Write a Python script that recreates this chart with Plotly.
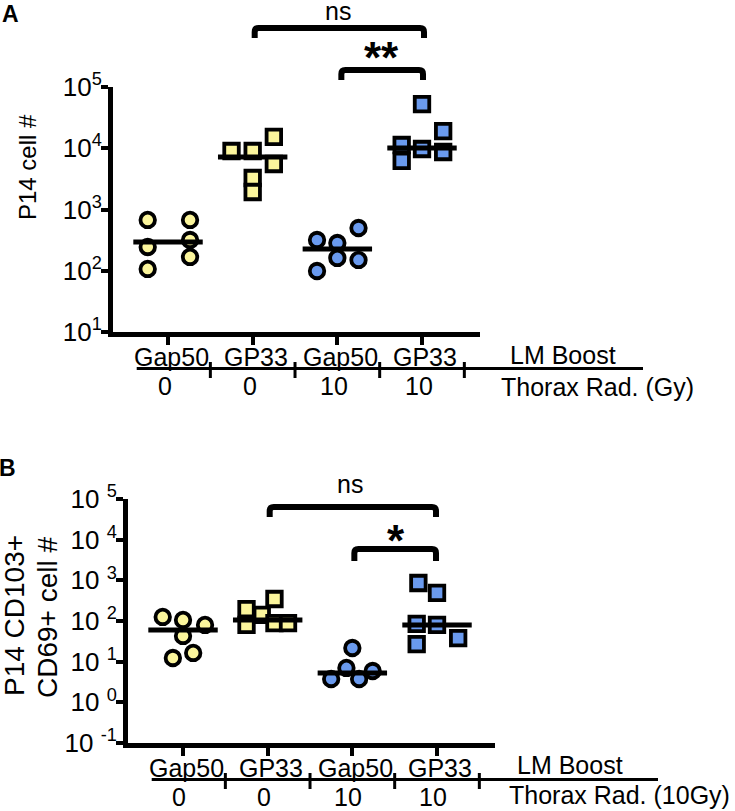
import plotly.graph_objects as go

W, H = 735, 811
FONT = "Liberation Sans, Arial, sans-serif"

# ---------------- data ----------------
categories = ["Gap50", "GP33", "Gap50", "GP33"]
thorax_labels = ["0", "0", "10", "10"]
group_colors = ["yellow", "yellow", "blue", "blue"]
group_symbols = ["circle", "square", "circle", "square"]

# Panel A: P14 cell #
a_gap50_0 = [675, 244, 107, 675, 318, 168]
a_gp33_0 = [9020, 9020, 15300, 5530, 3270, 1930]
a_gap50_10 = [318, 99, 284, 162, 499, 150]
a_gp33_10 = [52700, 19100, 11300, 6200, 9720, 8690]
a_medians = [295, 7200, 226, 10100]

# Panel B: P14 CD103+ CD69+ cell #
b_gap50_0 = [126, 106, 80, 43, 12.3, 16.4]
b_gp33_0 = [197, 80, 141, 348, 89, 89]
b_gap50_10 = [21.7, 7.0, 3.75, 3.75, 5.9]
b_gp33_10 = [861, 489, 85, 27, 80, 38]
b_medians = [60, 106, 5.3, 80]

a_ticks = [1e1, 1e2, 1e3, 1e4, 1e5]
a_ticktext = ["10<sup>1</sup>", "10<sup>2</sup>", "10<sup>3</sup>", "10<sup>4</sup>", "10<sup>5</sup>"]
b_ticks = [1e-1, 1e0, 1e1, 1e2, 1e3, 1e4, 1e5]
b_ticktext = ["10 <sup>-1</sup>", "10 <sup>0</sup>", "10 <sup>1</sup>", "10 <sup>2</sup>",
              "10 <sup>3</sup>", "10 <sup>4</sup>", "10 <sup>5</sup>"]

# ---------------- layout helpers (positions / styles) ----------------
a_jitter = [[-0.24, -0.24, -0.24, 0.26, 0.26, 0.26],
            [-0.25, 0, 0.25, 0.25, 0, 0],
            [-0.24, -0.24, 0, 0, 0.25, 0.25],
            [0, 0.25, -0.24, -0.24, 0, 0.25]]
b_jitter = [[-0.24, 0, 0.26, 0, -0.12, 0.12],
            [-0.25, -0.25, -0.07, 0.08, 0.08, 0.24],
            [0, -0.07, -0.25, 0.08, 0.24],
            [-0.22, 0, -0.24, -0.24, 0, 0.25]]

COLORS = {"yellow": "#FBF59C", "blue": "#6A9AEE"}

XR = [0.35, 4.685]
geom = {
    "A": dict(x0=113, x1=480, y0=87, y1=332, yr=[1, 5]),
    "B": dict(x0=128, x1=495, y0=499, y1=743, yr=[-1, 5]),
}


def px(x):
    return x / W


def py(y):
    return 1 - y / H


def cat_px(panel, c):
    g = geom[panel]
    return g["x0"] + (c - XR[0]) / (XR[1] - XR[0]) * (g["x1"] - g["x0"])


fig = go.Figure()

panels = [
    ("A", [a_gap50_0, a_gp33_0, a_gap50_10, a_gp33_10], a_medians, a_jitter, "x", "y"),
    ("B", [b_gap50_0, b_gp33_0, b_gap50_10, b_gp33_10], b_medians, b_jitter, "x2", "y2"),
]

for panel, groups, meds, jit, xa, ya in panels:
    for i, vals in enumerate(groups):
        c = i + 1
        fig.add_trace(go.Scatter(
            x=[c + j for j in jit[i]], y=vals, mode="markers", xaxis=xa, yaxis=ya,
            marker=dict(symbol=group_symbols[i], size=14.5,
                        color=COLORS[group_colors[i]],
                        line=dict(color="black", width=3.8)),
            hoverinfo="y", showlegend=False))
    for i, m in enumerate(meds):
        c = i + 1
        fig.add_trace(go.Scatter(
            x=[c - 0.41, c + 0.41], y=[m, m], mode="lines", xaxis=xa, yaxis=ya,
            line=dict(color="black", width=5), hoverinfo="skip", showlegend=False))

axis_common = dict(showgrid=False, zeroline=False, showline=True, linecolor="black",
                   linewidth=5, ticks="outside", tickcolor="black", automargin=False)

for panel, xa, ya, ticks, ticktext in [("A", "xaxis", "yaxis", a_ticks, a_ticktext),
                                       ("B", "xaxis2", "yaxis2", b_ticks, b_ticktext)]:
    g = geom[panel]
    anchor_x = "y" if panel == "A" else "y2"
    anchor_y = "x" if panel == "A" else "x2"
    fig.update_layout(**{
        xa: dict(axis_common, domain=[px(g["x0"]), px(g["x1"])], range=XR,
                 tickvals=[1, 2, 3, 4], showticklabels=False, ticklen=8, tickwidth=4,
                 anchor=anchor_x, fixedrange=True),
        ya: dict(axis_common, domain=[py(g["y1"]), py(g["y0"])], type="log", range=g["yr"],
                 tickvals=ticks, ticktext=ticktext, ticklen=7, tickwidth=4,
                 ticklabelstandoff=-6,
                 tickfont=dict(family=FONT, size=26, color="black"),
                 anchor=anchor_y, fixedrange=True),
    })

shapes = []
annotations = []


def text(t, x, y, size, bold=False, angle=0, family=FONT):
    annotations.append(dict(text=("<b>%s</b>" % t) if bold else t, x=px(x), y=py(y),
                            xref="paper", yref="paper", showarrow=False,
                            xanchor="center", yanchor="middle", textangle=angle,
                            font=dict(family=family, size=size, color="black")))


def bracket(xl, xr, ytop, ybot, w=6, r=4):
    path = ("M {a},{b} L {a},{c} Q {a},{d} {e},{d} L {f},{d} Q {g},{d} {g},{c} L {g},{b}"
            .format(a=px(xl), b=py(ybot), c=py(ytop + r), d=py(ytop), e=px(xl + r),
                    f=px(xr - r), g=px(xr)))
    shapes.append(dict(type="path", path=path, xref="paper", yref="paper",
                       line=dict(color="black", width=w)))


def hline(x0, x1, y, w):
    shapes.append(dict(type="line", x0=px(x0), x1=px(x1), y0=py(y), y1=py(y),
                       xref="paper", yref="paper", line=dict(color="black", width=w)))


def vline(x, y0, y1, w):
    shapes.append(dict(type="line", x0=px(x), x1=px(x), y0=py(y0), y1=py(y1),
                       xref="paper", yref="paper", line=dict(color="black", width=w)))


# ---- Panel A decorations ----
text("A", 10, 14, 23, bold=True, family="Liberation Sans Narrow, " + FONT)
text("P14 cell #", 27, 167, 24, angle=-90)
text("ns", 338, 11, 25)
bracket(cat_px("A", 2) + 2, cat_px("A", 4) + 2, 28, 38)
text("**", 381, 58, 44, bold=True)
bracket(cat_px("A", 3) + 4, cat_px("A", 4) + 1, 70, 80)
for i, lab in enumerate(categories):
    c = i + 1
    text(lab, cat_px("A", c) + 3, 357, 25)
    text(thorax_labels[i], cat_px("A", c) - 3, 386, 25)
    vline(cat_px("A", c + 0.5), 362, 378, 3)
hline(cat_px("A", 0.63), 643, 368.5, 3)
text("LM Boost", 563, 355, 25)
text("Thorax Rad. (Gy)", 597, 387, 25)

# ---- Panel B decorations ----
text("B", 8, 468, 23, bold=True, family="Liberation Sans Narrow, " + FONT)
text("P14 CD103+", 14, 616, 28, angle=-90)
text("CD69+ cell #", 47, 617, 28, angle=-90)
text("ns", 350, 484, 25)
bracket(cat_px("B", 2) + 2, cat_px("B", 4) - 1, 507, 517)
text("*", 396, 540, 44, bold=True)
bracket(cat_px("B", 3) + 2, cat_px("B", 4) - 1, 549, 561)
for i, lab in enumerate(categories):
    c = i + 1
    text(lab, cat_px("B", c) + 3, 768, 25)
    text(thorax_labels[i], cat_px("B", c) - 4, 797, 25)
    vline(cat_px("B", c + 0.5), 773, 789, 3)
hline(cat_px("B", 0.63), 658, 779.5, 3)
text("LM Boost", 570, 765, 25)
text("Thorax Rad. (10Gy)", 619, 795, 25)

fig.update_layout(width=W, height=H,
                  margin=dict(l=0, r=0, t=0, b=0, pad=0, autoexpand=False),
                  paper_bgcolor="white", plot_bgcolor="white", showlegend=False,
                  shapes=shapes, annotations=annotations,
                  font=dict(family=FONT, color="black"))

fig.write_html("out.html", config={"displayModeBar": False},
               post_script=["document.body.style.margin='0px';"])
